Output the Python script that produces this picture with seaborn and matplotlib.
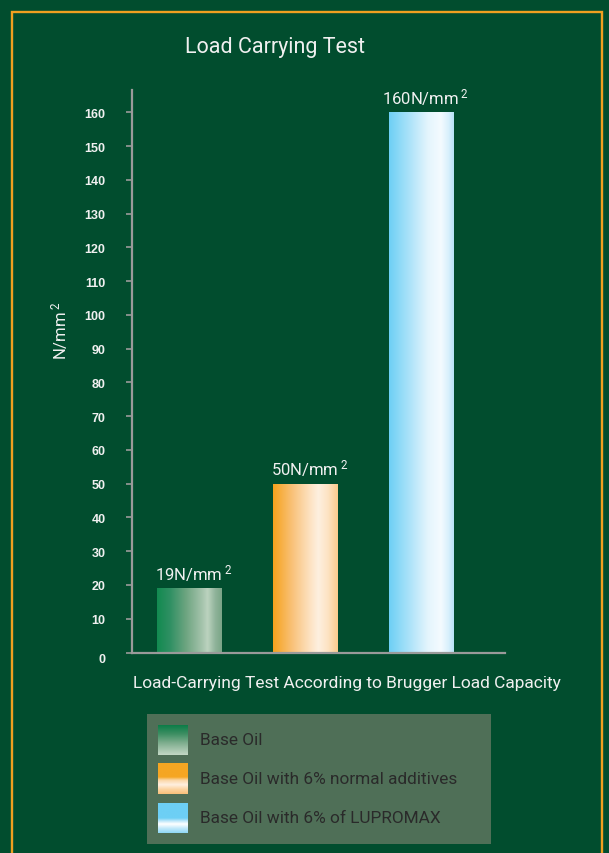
import matplotlib
import numpy as np
import pandas as pd

matplotlib.use("Agg")
import matplotlib.pyplot as plt
import matplotlib.transforms as mtransforms
import seaborn as sns
from matplotlib.colors import LinearSegmentedColormap
from matplotlib.patches import Rectangle

# data
categories = [
    "Base Oil",
    "Base Oil with 6% normal additives",
    "Base Oil with 6% of LUPROMAX",
]
loads = [19, 50, 160]
value_labels = ["19N/mm", "50N/mm", "160N/mm"]
y_ticks = list(range(0, 170, 10))

# styles
BG        = "#014d2e"
BORDER    = "#f0a020"
SPINE     = "#9a9a9a"
TEXT      = "#f0f0f0"
LEGEND_BG = "#4f6f57"
FONT      = ["Roboto", "Liberation Sans", "DejaVu Sans"]

W, H = 609, 854

bar_stops = [
    [(0, "#128a50"), (0.2, "#2f9063"), (0.45, "#6ea581"), (0.7, "#a6c4ad"),
     (0.78, "#bcd3bf"), (0.9, "#8fb39a"), (1, "#7aa587")],
    [(0, "#f6a21c"), (0.3, "#f9c27a"), (0.55, "#fde0bd"), (0.7, "#fef0e0"),
     (0.85, "#fde3c2"), (1, "#fbcc8c")],
    [(0, "#6dcff5"), (0.3, "#a9e2f9"), (0.6, "#e4f5fd"), (0.8, "#f4fbff"),
     (0.92, "#d8f0fc"), (1, "#b7e3f7")],
]
swatch_stops = [
    [(0, "#0b7d47"), (0.3, "#3e8f63"), (0.6, "#7fae8f"), (1, "#c4d8c6")],
    [(0, "#f5a623"), (0.45, "#f5a623"), (0.55, "#fbd6a6"), (0.7, "#fff0e0"),
     (0.85, "#fcd3a0"), (1, "#f9c07a")],
    [(0, "#6dcff5"), (0.5, "#6dcff5"), (0.6, "#bfe8fa"), (0.7, "#ffffff"),
     (0.85, "#bfe8fa"), (1, "#8dd8f6")],
]

sns.set_theme(style="white")
plt.rcParams["font.family"] = FONT
plt.rcParams["mathtext.fontset"] = "custom"
plt.rcParams["mathtext.rm"] = "Roboto"
plt.rcParams["mathtext.it"] = "Roboto"
plt.rcParams["mathtext.bf"] = "Roboto"

fig = plt.figure(figsize=(W / 100, H / 100), dpi=100, facecolor=BG)

# orange frame
fig.patches.append(Rectangle(
    (12 / W, -0.1), (602 - 12) / W, 1.1 - 12.5 / H,
    transform=fig.transFigure, fill=False, edgecolor=BORDER, linewidth=1.7,
))

ax = fig.add_axes([132 / W, 1 - 653.5 / H, (505 - 132) / W, (653.5 - 91) / H])
ax.set_facecolor(BG)

df = pd.DataFrame({"sample": categories, "load": loads})
sns.barplot(data=df, x="sample", y="load", ax=ax, width=0.56,
            color="white", saturation=1, edgecolor="none", zorder=2)

grad = np.linspace(0, 1, 256).reshape(1, -1)
for patch, stops in zip(ax.patches, bar_stops):
    patch.set_facecolor("none")
    x0, w, h = patch.get_x(), patch.get_width(), patch.get_height()
    cmap = LinearSegmentedColormap.from_list("bar", stops)
    im = ax.imshow(grad, extent=[x0, x0 + w, 0, h], aspect="auto",
                   cmap=cmap, zorder=2, interpolation="bilinear")
    im.set_clip_path(patch)

for i, (v, lab) in enumerate(zip(loads, value_labels)):
    ax.annotate(lab + r"$\,{}^{2}$", (i, v), xytext=(3, 4),
                textcoords="offset points", ha="center", va="bottom",
                color=TEXT, fontsize=12)

ax.set_xlim(-0.496, 2.724)
ax.set_ylim(0, 166.6)
ax.set_yticks(y_ticks)
ax.set_yticklabels([str(t) for t in y_ticks], fontsize=9, fontweight="bold",
                   family=["Liberation Sans", "DejaVu Sans"], color=TEXT)
ax.set_xticks([])
ax.tick_params(axis="y", left=True, length=4, width=1.2, color=SPINE, pad=15)
# the zero label sits a little below the baseline in the original
zero_lab = ax.get_yticklabels()[0]
zero_lab.set_transform(zero_lab.get_transform() + mtransforms.ScaledTranslation(
    0, -5 / 100, fig.dpi_scale_trans))
for side in ["top", "right"]:
    ax.spines[side].set_visible(False)
for side in ["left", "bottom"]:
    ax.spines[side].set_color(SPINE)
    ax.spines[side].set_linewidth(1.6)

ax.set_ylabel(r"N/mm$\,{}^{2}$", color=TEXT, fontsize=12)
ax.yaxis.set_label_coords((70 - 132) / (505 - 132), (652 - 330) / (652 - 90))
ax.set_xlabel("Load-Carrying Test According to Brugger Load Capacity",
              color=TEXT, fontsize=12.5)
ax.xaxis.set_label_coords((347 - 132) / (505 - 132), (652 - 674) / (652 - 90))

fig.text(275 / W, 1 - 48 / H, "Load Carrying Test", ha="center", va="center",
         color=TEXT, fontsize=15.5)

# legend box
lax = fig.add_axes([147 / W, 1 - 845 / H, (491 - 147) / W, (845 - 715) / H])
lax.set_facecolor(LEGEND_BG)
lax.set_xticks([])
lax.set_yticks([])
for s in lax.spines.values():
    s.set_visible(False)

vgrad = np.linspace(0, 1, 256).reshape(-1, 1)
rows = [(11, 41), (49, 80), (89, 119)]
for (top, bot), stops, lab in zip(rows, swatch_stops, categories):
    cmap = LinearSegmentedColormap.from_list("sw", stops)
    lax.imshow(vgrad, extent=[11, 41, bot, top], aspect="auto", cmap=cmap,
               interpolation="bilinear")
    lax.text(53, (top + bot) / 2, lab, ha="left", va="center",
             color="#2a2a2a", fontsize=12.4)
lax.set_xlim(0, 344)
lax.set_ylim(130, 0)

fig.savefig("out.png", dpi=100, facecolor=BG)
